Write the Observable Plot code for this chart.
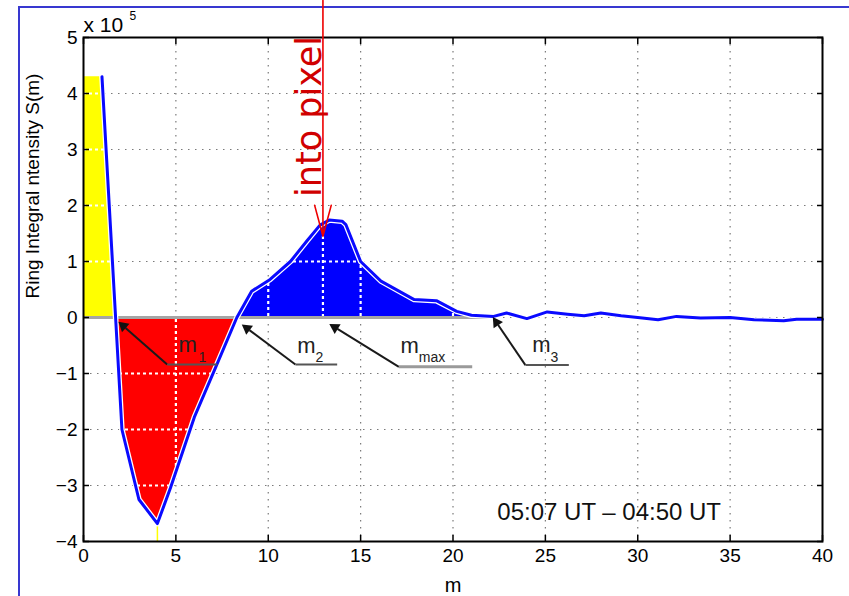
<!DOCTYPE html>
<html><head><meta charset="utf-8">
<script src="https://cdn.jsdelivr.net/npm/d3@7"></script>
<script src="https://cdn.jsdelivr.net/npm/@observablehq/plot@0.6"></script>
<style>
html,body{margin:0;padding:0;background:#fff;overflow:hidden;}
#wrap{position:relative;width:849px;height:596px;overflow:hidden;}
#border{position:absolute;left:18px;top:6px;width:900px;height:700px;border-left:2px solid #3838d0;border-top:2px solid #3838d0;}
#chart{position:absolute;left:0;top:0;}
</style></head><body>
<div id="wrap"><div id="border"></div><div id="chart"></div></div>
<script>
// ---- data ----
const mVals = [1.0, 2.08, 3.0, 4.0, 4.7, 6.0, 7.1, 8.3, 9.1, 10.1, 11.2, 12.1, 12.8, 13.3, 14.0, 14.2, 15.0, 16.1, 17.9, 19.1, 20.2, 21.0, 22.2, 22.9, 24.0, 25.1, 26.2, 27.1, 28.0, 29.1, 30.0, 31.1, 32.1, 33.4, 35.0, 36.3, 37.9, 38.6, 40.0];
const sVals = [4.30, -2.0, -3.25, -3.68, -3.05, -1.78, -0.93, 0.0, 0.47, 0.68, 1.0, 1.37, 1.65, 1.74, 1.72, 1.66, 1.0, 0.65, 0.32, 0.30, 0.11, 0.04, 0.02, 0.08, -0.02, 0.10, 0.06, 0.03, 0.08, 0.03, 0.0, -0.04, 0.02, -0.01, 0.0, -0.04, -0.06, -0.03, -0.03];
const xTicks = [0, 5, 10, 15, 20, 25, 30, 35, 40];
const yTicks = [-4, -3, -2, -1, 0, 1, 2, 3, 4, 5];
const gridXVals = [5, 10, 15, 20, 25, 30, 35];
const gridYVals = [-3, -2, -1, 0, 1, 2, 3, 4];
const crossings = [1.74, 8.3, 22.2];
const regionNames = ["yellow", "red", "blue"];
const regionColors = ["#ffff00", "#ff0000", "#0000ff"];
// annotations m1, m2, mmax, m3
const annSubs = ["1", "2", "max", "3"];
const annTipM = [1.91, 8.59, 13.33, 22.17];
const annTipS = [-0.08, -0.13, -0.12, 0.0];
const annElbowM = [4.53, 11.47, 17.07, 23.92];
const annElbowS = [-0.84, -0.84, -0.88, -0.85];
const annEndM = [7.24, 13.73, 21.04, 26.27];
const annLabelM = [5.14, 11.57, 17.16, 24.29];
const annLabelS = [-0.62, -0.64, -0.64, -0.61];
const annSubM = [6.22, 12.56, 18.15, 25.28];
const annSubS = [-0.79, -0.79, -0.79, -0.79];
// "into pixel" annotation
const pixelText = "into pixel";
const pixelM = 12.96;
const pixelTipS = 1.45;
const pixelTopS = 5.66;
const pixelTextS = 3.59;
// other texts
const yLabel = "Ring Integral ntensity S(m)";
const xLabel = "m";
const expBase = "x 10";
const expPow = "5";
const timeLabel = "05:07 UT \u2013 04:50 UT";
const timeM = 22.4, timeS = -3.62;

// ---- derived tables ----
const pts = mVals.map((m, i) => ({m, s: sVals[i]}));
function interp(m) {
  if (m <= mVals[0]) return sVals[0];
  for (let i = 1; i < mVals.length; i++) {
    if (m <= mVals[i]) {
      const t = (m - mVals[i - 1]) / (mVals[i] - mVals[i - 1]);
      return sVals[i - 1] + t * (sVals[i] - sVals[i - 1]);
    }
  }
  return sVals[sVals.length - 1];
}
const bounds = [0, ...crossings];
const regions = regionNames.map((name, k) => {
  const a = bounds[k], b = bounds[k + 1];
  const inner = pts.filter(p => p.m > a && p.m < b);
  return [{m: a, s: interp(a)}, ...inner, {m: b, s: interp(b)}].map(p => ({...p, region: name}));
});
// pixel scale factors (plot area px per unit) for arrowhead orientation
const KX = (849 - 83 - 27) / 40, KY = (596 - 37 - 55) / 9;
const ann = annSubs.map((sub, i) => {
  const ex = (annTipM[i] - annElbowM[i]) * KX, ey = -(annTipS[i] - annElbowS[i]) * KY;
  const len = Math.hypot(ex, ey), ux = ex / len, uy = ey / len;
  return {
    sub, label: "m",
    tipM: annTipM[i], tipS: annTipS[i], elbowM: annElbowM[i], elbowS: annElbowS[i],
    endM: annEndM[i], labelM: annLabelM[i], labelS: annLabelS[i], subM: annSubM[i], subS: annSubS[i],
    headM: annTipM[i] - ux * 6 / KX, headS: annTipS[i] + uy * 6 / KY,
    shaftM: annTipM[i] - ux * 9 / KX, shaftS: annTipS[i] + uy * 9 / KY,
    angle: Math.atan2(ux, -uy) * 180 / Math.PI
  };
});
const minPt = d3.least(pts, d => d.s);
const FONT = "Liberation Sans, Arial, Helvetica, sans-serif";
const fmt = d => d < 0 ? "\u2212" + (-d) : String(d);

const marks = [
  // gray dotted grid
  Plot.ruleX(gridXVals, {stroke: "#7a7a7a", strokeWidth: 1.2, strokeDasharray: "1.5,5.5"}),
  Plot.ruleY(gridYVals, {stroke: "#7a7a7a", strokeWidth: 1.2, strokeDasharray: "1.5,5.5"}),
  // filled regions
  ...regions.map((r, k) => Plot.areaY(r, {x: "m", y1: 0, y2: "s", fill: regionColors[k], className: "fillarea"})),
  // white grid inside fills (clipped below)
  Plot.ruleX(gridXVals, {stroke: "white", strokeWidth: 2.2, strokeDasharray: "3,3", className: "whitegrid"}),
  Plot.ruleY(gridYVals.filter(v => v !== 0), {stroke: "white", strokeWidth: 2.2, strokeDasharray: "3,3", className: "whitegrid"}),
  Plot.ruleX([pixelM], {x: d => d, y1: 0, y2: pixelTipS, stroke: "white", strokeWidth: 2.2, strokeDasharray: "3,3", className: "whitegrid"}),
  // zero line
  Plot.ruleY([0], {x1: 0, x2: crossings[2], stroke: "#a5a5a5", strokeWidth: 3}),
  // yellow rule at min
  Plot.ruleX([minPt], {x: "m", y1: -4, y2: "s", stroke: "#ffff00", strokeWidth: 1.5}),
  // curve
  Plot.line(pts, {x: "m", y: "s", stroke: "white", strokeWidth: 5.5}),
  Plot.line(pts, {x: "m", y: "s", stroke: "#0a0aff", strokeWidth: 3}),
  // frame & axes
  Plot.frame({stroke: "black", strokeWidth: 2}),
  Plot.axisX(xTicks, {anchor: "bottom", tickSize: -6, tickPadding: 13, strokeWidth: 1.5, fontSize: 19, tickFormat: fmt}),
  Plot.axisX(xTicks, {anchor: "top", tickSize: -6, tickFormat: () => "", strokeWidth: 1.5}),
  Plot.axisY(yTicks, {anchor: "left", tickSize: -6, tickPadding: 12, strokeWidth: 1.5, fontSize: 19, tickFormat: fmt}),
  Plot.axisY(yTicks, {anchor: "right", tickSize: -6, tickFormat: () => "", strokeWidth: 1.5}),
  // annotation arrows and leaders
  Plot.link(ann, {x1: "elbowM", y1: "elbowS", x2: "shaftM", y2: "shaftS", stroke: "#1a1a1a", strokeWidth: 2}),
  Plot.dot(ann, {x: "headM", y: "headS", symbol: "triangle", r: 4.2, fill: "#111", stroke: "none", rotate: "angle"}),
  Plot.link(ann.filter(d => d.sub !== "max"), {x1: "elbowM", x2: "endM", y1: "elbowS", y2: "elbowS", stroke: "#555", strokeWidth: 2}),
  Plot.link(ann.filter(d => d.sub === "max"), {x1: "elbowM", x2: "endM", y1: "elbowS", y2: "elbowS", stroke: "#9a9a9a", strokeWidth: 3}),
  Plot.text(ann, {x: "labelM", y: "labelS", text: "label", textAnchor: "start", lineAnchor: "bottom", fontSize: 22, fill: "#222"}),
  Plot.text(ann, {x: "subM", y: "subS", text: "sub", textAnchor: "start", lineAnchor: "bottom", fontSize: 14, fill: "#222"}),
  // into pixel
  Plot.arrow([pixelM], {x1: d => d, x2: d => d, y1: pixelTopS, y2: pixelTipS, stroke: "#ee0000", strokeWidth: 1.6, headLength: 30, headAngle: 30}),
  Plot.text([pixelText], {x: pixelM, y: pixelTextS, text: d => d, rotate: -90, textAnchor: "middle", lineAnchor: "bottom", dx: -1.5, fontSize: 35, fontFamily: "DejaVu Sans", fill: "#d00000"}),
  // time label
  Plot.text([timeLabel], {x: timeM, y: timeS, text: d => d, textAnchor: "start", lineAnchor: "bottom", fontSize: 24, fill: "#111"}),
  // axis labels
  Plot.text([yLabel], {frameAnchor: "left", text: d => d, rotate: -90, dx: -45, dy: 9, lineAnchor: "bottom", fontSize: 19}),
  Plot.text([xLabel], {frameAnchor: "bottom", text: d => d, dy: 50, lineAnchor: "bottom", fontSize: 20}),
  Plot.text([expBase], {frameAnchor: "top-left", text: d => d, dy: -6, textAnchor: "start", lineAnchor: "bottom", fontSize: 21}),
  Plot.text([expPow], {frameAnchor: "top-left", text: d => d, dx: 46, dy: -18, textAnchor: "start", lineAnchor: "bottom", fontSize: 12})
];

const chart = Plot.plot({
  width: 849,
  height: 596,
  marginLeft: 83,
  marginRight: 27,
  marginTop: 37,
  marginBottom: 55,
  x: {domain: [0, 40], label: null},
  y: {domain: [-4, 5], label: null},
  style: {fontFamily: FONT, fontSize: "19px", background: "transparent", color: "black", overflow: "visible"},
  marks
});
document.getElementById("chart").appendChild(chart);

// clip the white grid to the filled regions
const ns = "http://www.w3.org/2000/svg";
const defs = document.createElementNS(ns, "defs");
const cp = document.createElementNS(ns, "clipPath");
cp.setAttribute("id", "fillclip");
chart.querySelectorAll(".fillarea path").forEach(p => {
  const c = document.createElementNS(ns, "path");
  c.setAttribute("d", p.getAttribute("d"));
  cp.appendChild(c);
});
defs.appendChild(cp);
chart.appendChild(defs);
chart.querySelectorAll(".whitegrid").forEach(g => g.setAttribute("clip-path", "url(#fillclip)"));
</script>
</body></html>
